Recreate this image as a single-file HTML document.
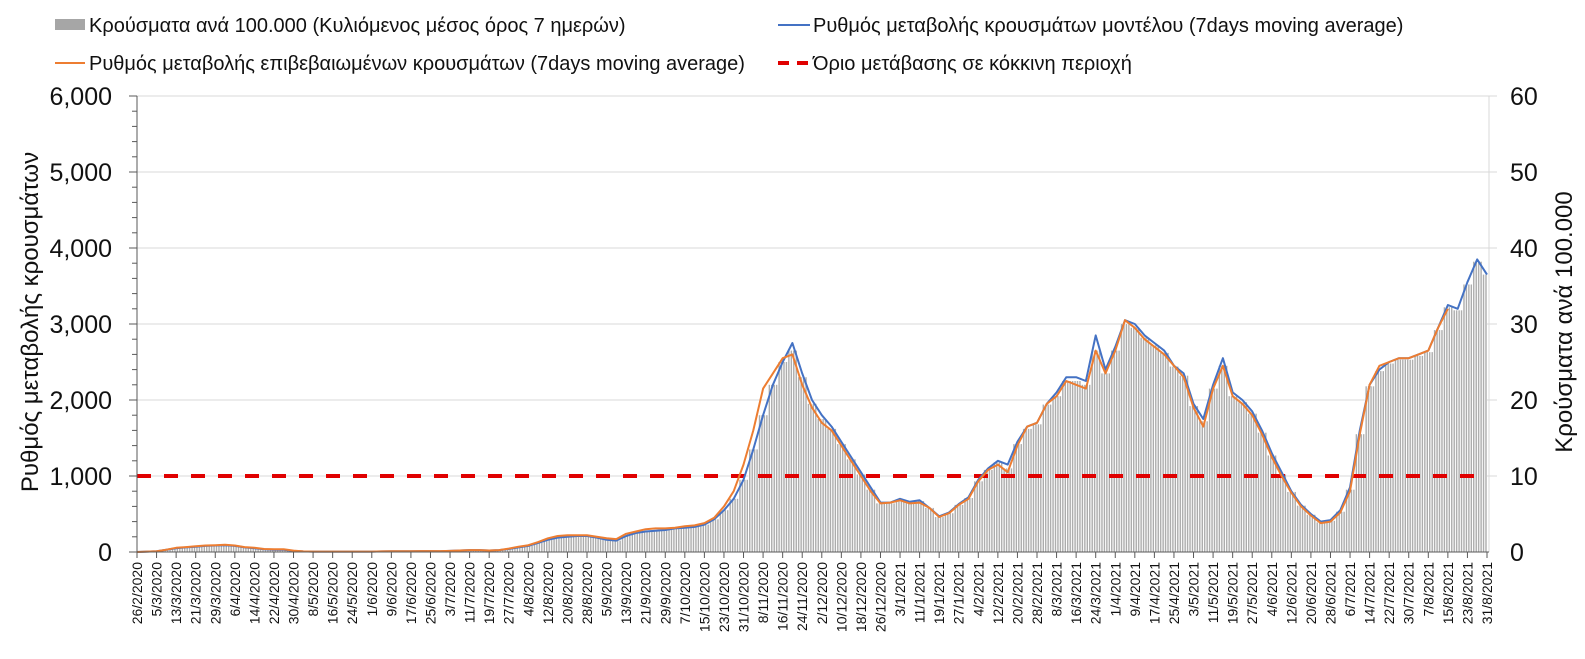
<!DOCTYPE html>
<html><head><meta charset="utf-8">
<style>
html,body{margin:0;padding:0;background:#fff;}
svg{display:block;font-family:"Liberation Sans",Arial,sans-serif;}
</style></head>
<body>
<svg id="chart" width="1585" height="659" viewBox="0 0 1585 659">
<defs>
<pattern id="stripes" patternUnits="userSpaceOnUse" width="2.446" height="10" x="137">
<rect x="0" y="0" width="2.446" height="10" fill="#ffffff"/>
<rect x="0.6" y="0" width="1.3" height="10" fill="#a6a6a6"/>
</pattern>
</defs>
<g>
<g>
<rect x="55" y="19" width="30" height="11" fill="#a6a6a6"/>
<text x="89" y="32" font-size="20" fill="#111">Κρούσματα ανά 100.000 (Κυλιόμενος μέσος όρος 7 ημερών)</text>
</g>
<g>
<line x1="778" y1="25" x2="810" y2="25" stroke="#4472c4" stroke-width="2"/>
<text x="813" y="32" font-size="20" fill="#111">Ρυθμός μεταβολής κρουσμάτων μοντέλου (7days moving average)</text>
</g>
<g>
<line x1="55" y1="63" x2="85" y2="63" stroke="#ed7d31" stroke-width="2"/>
<text x="89" y="70" font-size="20" fill="#111">Ρυθμός μεταβολής επιβεβαιωμένων κρουσμάτων (7days moving average)</text>
</g>
<g>
<line x1="778" y1="63" x2="810" y2="63" stroke="#e00000" stroke-width="4" stroke-dasharray="11,8"/>
<text x="813" y="70" font-size="20" fill="#111">Όριο μετάβασης σε κόκκινη περιοχή</text>
</g>
</g>
<text transform="translate(38,322) rotate(-90)" text-anchor="middle" font-size="24" fill="#111">Ρυθμός μεταβολής κρουσμάτων</text>
<text transform="translate(1572,322) rotate(-90)" text-anchor="middle" font-size="24" fill="#111">Κρούσματα ανά 100.000</text>
<g id="grid"></g>
<g id="bars"></g>
<g id="lines"></g>
<g id="axes"></g>
</svg>
<script>
const startDay = [2020, 1, 26];
const stepDays = 4;
const leftTicks = [0, 1000, 2000, 3000, 4000, 5000, 6000];
const leftTickLabels = ["0", "1,000", "2,000", "3,000", "4,000", "5,000", "6,000"];
const rightTickLabels = ["0", "10", "20", "30", "40", "50", "60"];
const threshold = [1000];
const modelRate = [0,5,10,30,50,60,70,80,85,90,
80,60,50,35,30,30,15,8,5,5,
5,5,5,5,5,8,10,10,10,12,
12,10,15,20,25,25,20,25,40,60,
80,120,160,190,200,210,210,190,160,150,
210,250,270,280,290,310,320,330,360,430,
550,700,950,1350,1800,2200,2500,2750,2350,2000,
1800,1650,1450,1250,1050,850,650,650,700,660,
680,580,470,520,630,720,950,1100,1200,1150,
1450,1650,1700,1950,2100,2300,2300,2250,2850,2400,
2700,3050,3000,2850,2750,2650,2450,2350,1950,1750,
2200,2550,2100,2000,1850,1600,1300,1050,800,620,
500,400,420,550,850,1600,2200,2400,2500,2550,
2550,2600,2650,2950,3250,3200,3550,3850,3650];
const confirmedRate = [0,5,10,30,55,65,75,85,90,95,
85,65,55,40,35,35,18,8,5,5,
5,5,5,5,5,8,10,10,10,12,
12,12,15,20,25,25,20,25,45,70,
90,130,180,210,220,220,220,200,180,170,
240,270,300,310,310,320,340,350,380,450,
600,800,1150,1600,2150,2350,2550,2600,2200,1900,
1700,1600,1400,1200,1000,800,640,650,680,640,
650,580,460,510,620,700,930,1080,1150,1050,
1400,1650,1700,1950,2050,2250,2200,2150,2650,2350,
2650,3050,2950,2800,2700,2600,2450,2300,1900,1650,
2150,2450,2050,1950,1800,1550,1250,1000,780,600,
480,380,400,520,800,1550,2200,2450,2500,2550,
2550,2600,2650,2950,3200,null,null,null,null];
const casesPer100k = [0,0.1,0.1,0.3,0.5,0.6,0.7,0.8,0.8,0.9,
0.8,0.6,0.5,0.3,0.3,0.3,0.1,0.1,0,0,
0,0,0,0,0,0.1,0.1,0.1,0.1,0.1,
0.1,0.1,0.1,0.2,0.2,0.2,0.2,0.2,0.4,0.6,
0.8,1.2,1.6,1.9,2.0,2.1,2.1,1.9,1.6,1.5,
2.1,2.5,2.7,2.8,2.9,3.1,3.2,3.3,3.6,4.3,
5.5,7.0,9.5,13.5,18.0,22.0,25.0,26.5,23.0,19.5,
17.5,16.2,14.2,12.2,10.2,8.2,6.4,6.4,6.9,6.5,
6.7,5.8,4.6,5.1,6.2,7.1,9.3,10.8,11.8,11.0,
14.2,16.2,16.8,19.4,20.5,22.5,22.5,22.0,26.5,23.5,
26.5,30.0,29.5,28.2,27.2,26.2,24.4,23.2,19.2,17.2,
21.5,24.5,20.5,19.7,18.2,15.7,12.7,10.2,7.9,6.1,
4.9,3.9,4.1,5.3,8.2,15.5,21.8,23.8,24.8,25.3,
25.3,25.8,26.3,29.2,32.2,31.8,35.2,38.2,36.5];

const NS = "http://www.w3.org/2000/svg";
const X0 = 137, X1 = 1487, totalDays = 552;
const Y0 = 552, Y1 = 96, YMAX = 6000, RMAX = 60;
function xDay(d){ return X0 + d * (X1 - X0) / totalDays; }
function yL(v){ return Y0 - v / YMAX * (Y0 - Y1); }
function yR(v){ return Y0 - v / RMAX * (Y0 - Y1); }
function mk(tag, attrs, parent){ const e = document.createElementNS(NS, tag); for (const k in attrs) e.setAttribute(k, attrs[k]); parent.appendChild(e); return e; }

const grid = document.getElementById('grid');
const bars = document.getElementById('bars');
const lines = document.getElementById('lines');
const axes = document.getElementById('axes');

leftTicks.forEach((t, i) => {
  if (i > 0) {
    const g = mk('line', {x1: X0, x2: 1497, y1: yL(t), y2: yL(t), stroke: '#d9d9d9', 'stroke-width': 1}, grid);
    
    
  }
  const lt = mk('text', {x: 112, y: yL(t) + 9, 'text-anchor': 'end', 'font-size': 25, fill: '#111'}, axes);
  lt.textContent = leftTickLabels[i];
  
  
  const rt = mk('text', {x: 1510, y: yL(t) + 9, 'font-size': 25, fill: '#111'}, axes);
  rt.textContent = rightTickLabels[i];
  
  
});

const barW = stepDays * (X1 - X0) / totalDays;
casesPer100k.forEach((v, i) => {
  const d = i * stepDays;
  let x = xDay(d) - barW / 2, w = barW;
  if (x < X0) { w -= X0 - x; x = X0; }
  if (x + w > X1) w = X1 - x;
  const r = mk('rect', {x: x, y: yR(v), width: Math.max(0, w), height: Y0 - yR(v), fill: 'url(#stripes)'}, bars);
  
  
});

function pathFor(arr){
  let p = '';
  let pen = false;
  arr.forEach((v, i) => {
    if (v === null) { pen = false; return; }
    p += (pen ? 'L' : 'M') + xDay(i * stepDays).toFixed(1) + ',' + yL(v).toFixed(1);
    pen = true;
  });
  return p;
}
const th = mk('line', {x1: X0, x2: X1, y1: yL(threshold[0]), y2: yL(threshold[0]), stroke: '#e00000', 'stroke-width': 4, 'stroke-dasharray': '14,13'}, lines);


const bl = mk('path', {d: pathFor(modelRate), fill: 'none', stroke: '#4472c4', 'stroke-width': 2, 'stroke-linejoin': 'round'}, lines);


const ol = mk('path', {d: pathFor(confirmedRate), fill: 'none', stroke: '#ed7d31', 'stroke-width': 2, 'stroke-linejoin': 'round'}, lines);



const la = mk('line', {x1: X0, x2: X0, y1: Y1, y2: Y0, stroke: '#595959', 'stroke-width': 1}, axes);


const ra = mk('line', {x1: 1489, x2: 1489, y1: Y1, y2: Y0, stroke: '#d9d9d9', 'stroke-width': 1}, axes);


const xa = mk('line', {x1: X0, x2: 1489, y1: Y0, y2: Y0, stroke: '#595959', 'stroke-width': 1}, axes);


for (let v = 0; v <= YMAX; v += 200) {
  const len = (v % 1000 === 0) ? 8 : 5;
  const tk = mk('line', {x1: X0 - len, x2: X0, y1: yL(v), y2: yL(v), stroke: '#595959', 'stroke-width': 1}, axes);
  
  
}
const base = new Date(startDay[0], startDay[1], startDay[2], 12);
for (let d = 0; d <= totalDays; d += 8) {
  const dt = new Date(base.getTime() + d * 86400000);
  const lab = dt.getDate() + '/' + (dt.getMonth() + 1) + '/' + dt.getFullYear();
  const x = xDay(d);
  const tk = mk('line', {x1: x, x2: x, y1: Y0, y2: Y0 + 6, stroke: '#595959', 'stroke-width': 1}, axes);
  
  
  const t = mk('text', {transform: 'translate(' + (x + 5).toFixed(1) + ',' + (Y0 + 10) + ') rotate(-90)', 'text-anchor': 'end', 'font-size': 14, fill: '#111'}, axes);
  t.textContent = lab;
  
  
}
</script>
</body></html>
